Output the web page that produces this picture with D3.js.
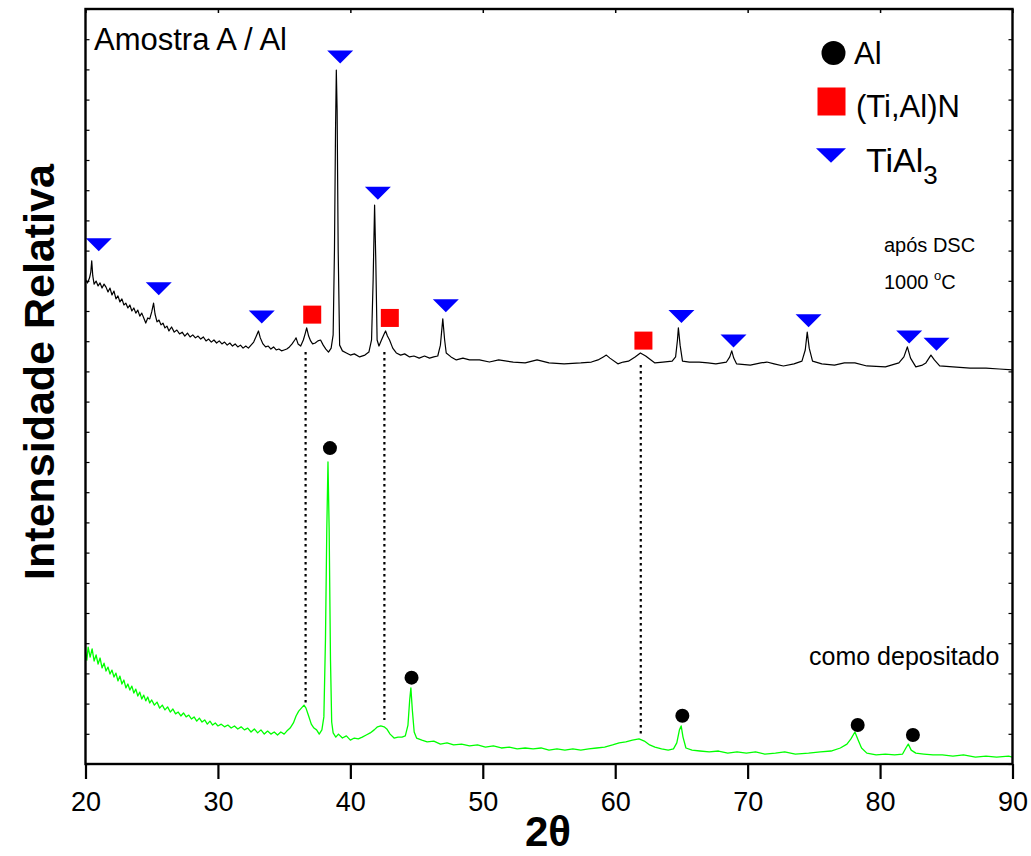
<!DOCTYPE html>
<html><head><meta charset="utf-8">
<script src="https://cdn.jsdelivr.net/npm/d3@7"></script>
<style>body{margin:0;background:#fff} svg{display:block} text{font-family:"Liberation Sans",Arial,sans-serif;fill:#000}</style>
</head><body><svg id="c" width="1031" height="856"></svg>
<script>
// ---- data (2θ in degrees, intensity in arbitrary units) ----
const xTicks = [20, 30, 40, 50, 60, 70, 80, 90];
const yTicks = d3.range(0, 26, 1);

// "após DSC 1000 °C" pattern (black)
const afterDSC = [
[20.00,16.03],[20.15,15.93],[20.30,16.09],[20.40,16.29],[20.47,16.66],[20.55,16.16],[20.65,15.89],[20.80,15.99],
[20.95,15.83],[21.10,15.93],[21.25,15.76],[21.40,15.89],[21.55,15.79],[21.70,15.63],[21.85,15.76],[22.00,15.53],
[22.15,15.66],[22.30,15.40],[22.45,15.50],[22.60,15.30],[22.75,15.40],[22.90,15.20],[23.05,15.26],[23.20,15.10],
[23.35,15.20],[23.50,15.00],[23.65,15.10],[23.80,14.93],[23.95,15.03],[24.10,14.83],[24.25,14.93],[24.40,14.77],
[24.55,14.60],[24.70,14.77],[24.85,14.74],[25.00,14.97],[25.14,15.26],[25.25,14.90],[25.40,14.64],[25.55,14.70],
[25.70,14.54],[25.85,14.60],[26.00,14.44],[26.15,14.50],[26.30,14.34],[26.50,14.47],[26.70,14.30],[26.90,14.37],
[27.10,14.24],[27.30,14.30],[27.50,14.17],[27.70,14.27],[27.90,14.14],[28.10,14.21],[28.30,14.11],[28.50,14.17],
[28.70,14.07],[28.90,14.14],[29.10,14.01],[29.30,14.07],[29.50,13.97],[29.70,14.04],[29.90,13.94],[30.10,14.01],
[30.30,13.91],[30.50,13.97],[30.70,13.87],[30.90,13.94],[31.10,13.84],[31.30,13.91],[31.50,13.81],[31.70,13.87],
[31.90,13.77],[32.10,13.84],[32.30,13.77],[32.50,13.87],[32.70,13.97],[32.90,14.17],[33.06,14.34],[33.20,14.11],
[33.40,13.91],[33.60,13.81],[33.80,13.84],[34.00,13.74],[34.20,13.81],[34.40,13.71],[34.60,13.74],[34.80,13.68],
[35.00,13.71],[35.20,13.74],[35.40,13.81],[35.60,13.91],[35.80,14.04],[35.90,14.11],[36.05,13.91],[36.25,13.84],
[36.45,14.04],[36.60,14.27],[36.70,14.44],[36.85,14.17],[37.00,14.01],[37.15,13.91],[37.35,13.94],[37.55,14.01],
[37.75,14.04],[37.95,13.87],[38.15,13.74],[38.35,13.64],[38.55,13.77],[38.70,14.21],[38.80,17.02],[38.88,20.99],
[38.94,22.98],[39.00,21.66],[39.08,17.02],[39.19,13.87],[39.40,13.68],[39.70,13.61],[40.00,13.54],[40.30,13.58],
[40.70,13.48],[41.10,13.54],[41.40,13.64],[41.60,14.04],[41.72,16.03],[41.83,18.51],[41.92,16.69],[42.02,14.04],
[42.16,13.84],[42.35,14.04],[42.55,14.24],[42.66,14.34],[42.80,14.17],[42.96,14.04],[43.20,13.77],[43.47,13.61],
[43.80,13.54],[44.10,13.58],[44.47,13.48],[44.80,13.51],[45.20,13.44],[45.60,13.51],[45.98,13.44],[46.30,13.48],
[46.60,13.51],[46.80,13.87],[46.98,14.74],[47.12,14.04],[47.24,13.61],[47.60,13.48],[48.00,13.38],[48.50,13.44],
[49.00,13.38],[49.75,13.38],[50.50,13.31],[51.20,13.38],[52.30,13.31],[53.20,13.28],[54.10,13.38],[55.00,13.28],
[56.14,13.25],[57.40,13.28],[58.20,13.31],[58.70,13.38],[59.10,13.48],[59.33,13.54],[59.60,13.44],[60.20,13.25],
[60.60,13.31],[61.00,13.34],[61.50,13.48],[61.90,13.61],[62.30,13.51],[62.70,13.38],[63.00,13.28],[63.60,13.31],
[64.30,13.34],[64.56,13.48],[64.70,14.04],[64.77,14.44],[64.90,13.87],[65.08,13.34],[65.60,13.31],[66.34,13.31],
[67.00,13.28],[67.60,13.25],[68.40,13.31],[68.65,13.48],[68.80,13.68],[68.95,13.44],[69.16,13.25],[70.20,13.21],
[71.00,13.28],[71.45,13.31],[72.00,13.25],[72.70,13.18],[73.50,13.25],[74.10,13.34],[74.35,13.71],[74.50,14.30],
[74.65,13.77],[74.90,13.34],[75.60,13.25],[76.56,13.21],[77.30,13.28],[78.10,13.28],[79.00,13.18],[80.40,13.15],
[81.42,13.28],[81.80,13.48],[82.06,13.81],[82.30,13.44],[82.70,13.15],[83.20,13.21],[83.46,13.28],[83.84,13.54],
[84.10,13.38],[84.50,13.18],[85.50,13.15],[86.80,13.11],[88.00,13.11],[89.00,13.08],[90.00,13.05]
];

// "como depositado" pattern (green)
const asDeposited = [
[20.00,3.71],[20.10,3.44],[20.20,3.87],[20.35,3.54],[20.50,3.81],[20.65,3.41],[20.80,3.61],[20.95,3.31],
[21.10,3.51],[21.25,3.18],[21.40,3.34],[21.55,3.08],[21.70,3.21],[21.85,2.98],[22.00,3.11],[22.15,2.88],
[22.30,3.01],[22.45,2.75],[22.60,2.91],[22.75,2.65],[22.90,2.78],[23.05,2.52],[23.20,2.65],[23.35,2.45],
[23.50,2.58],[23.65,2.35],[23.80,2.48],[23.95,2.25],[24.10,2.38],[24.25,2.15],[24.40,2.28],[24.55,2.09],
[24.70,2.22],[24.85,2.02],[25.00,2.12],[25.20,1.95],[25.40,2.05],[25.60,1.85],[25.80,1.95],[26.00,1.79],
[26.20,1.89],[26.40,1.72],[26.60,1.82],[26.80,1.66],[27.00,1.72],[27.20,1.59],[27.40,1.69],[27.60,1.56],
[27.80,1.62],[28.00,1.49],[28.20,1.56],[28.40,1.42],[28.60,1.52],[28.80,1.39],[29.00,1.46],[29.20,1.32],
[29.40,1.42],[29.60,1.29],[29.80,1.36],[30.00,1.26],[30.25,1.32],[30.50,1.23],[30.75,1.29],[31.00,1.19],
[31.25,1.26],[31.50,1.16],[31.75,1.23],[32.00,1.13],[32.25,1.19],[32.50,1.06],[32.75,1.16],[33.00,1.03],
[33.25,1.13],[33.50,0.99],[33.75,1.09],[34.00,0.99],[34.25,1.06],[34.50,0.96],[34.75,1.06],[35.00,0.99],
[35.20,1.09],[35.45,1.19],[35.70,1.36],[35.90,1.59],[36.10,1.75],[36.30,1.85],[36.50,1.95],[36.65,1.85],
[36.85,1.59],[37.05,1.32],[37.25,1.19],[37.45,1.13],[37.65,0.99],[37.85,1.13],[38.00,1.56],[38.12,4.11],
[38.22,7.75],[38.31,10.00],[38.40,7.75],[38.50,3.44],[38.59,1.39],[38.70,1.03],[38.90,0.89],[39.10,0.99],
[39.40,0.86],[39.70,0.93],[40.00,0.79],[40.30,0.86],[40.60,0.83],[40.90,0.89],[41.20,0.96],[41.50,1.03],
[41.80,1.13],[42.05,1.23],[42.30,1.26],[42.55,1.23],[42.75,1.16],[43.00,0.99],[43.30,0.86],[43.60,0.89],
[43.90,0.89],[44.15,0.93],[44.35,1.29],[44.48,2.12],[44.57,2.52],[44.68,1.79],[44.82,1.06],[45.00,0.86],
[45.40,0.79],[45.80,0.73],[46.30,0.76],[46.80,0.66],[47.30,0.70],[47.80,0.63],[48.40,0.66],[49.00,0.60],
[49.60,0.63],[50.20,0.56],[50.80,0.60],[51.40,0.53],[52.00,0.56],[52.60,0.50],[53.20,0.53],[53.80,0.50],
[54.40,0.53],[55.00,0.46],[55.60,0.50],[56.20,0.46],[56.80,0.50],[57.40,0.46],[58.00,0.50],[58.60,0.53],
[59.20,0.56],[59.80,0.63],[60.30,0.70],[60.80,0.73],[61.30,0.79],[61.80,0.83],[62.20,0.76],[62.60,0.63],
[63.00,0.56],[63.50,0.50],[64.00,0.46],[64.40,0.50],[64.65,0.70],[64.85,1.13],[64.98,1.26],[65.12,0.89],
[65.34,0.53],[65.80,0.46],[66.40,0.43],[67.10,0.40],[67.80,0.43],[68.50,0.36],[69.20,0.40],[69.90,0.36],
[70.60,0.40],[71.30,0.33],[72.10,0.36],[72.80,0.40],[73.60,0.33],[74.60,0.36],[75.50,0.40],[76.30,0.43],
[77.00,0.53],[77.50,0.66],[77.80,0.83],[78.10,1.06],[78.35,0.79],[78.60,0.53],[79.00,0.36],[79.70,0.30],
[80.40,0.33],[81.10,0.30],[81.70,0.33],[81.95,0.53],[82.13,0.66],[82.35,0.46],[82.70,0.36],[83.30,0.33],
[84.00,0.30],[84.70,0.30],[85.50,0.26],[86.30,0.30],[87.20,0.23],[88.00,0.26],[88.80,0.23],[89.70,0.26],[90.00,0.23]
];

// phase markers [2θ, intensity]
const tiAl3Marks = [[21.0,17.19],[25.53,15.74],[33.31,14.80],[39.23,23.41],[42.08,18.90],[47.21,15.17],
                    [65.0,14.82],[68.93,14.01],[74.6,14.68],[82.2,14.14],[84.26,13.90]];
const tiAlNMarks = [[37.12,14.88],[42.98,14.77],[62.13,14.02]];
const alMarks = [[38.46,10.46],[44.62,2.86],[65.07,1.60],[78.31,1.29],[82.48,0.96]];
// dotted guide lines [2θ, intensity top, intensity bottom]
const guideLines = [[36.62,13.64,2.02],[42.57,13.64,1.46],[61.93,13.21,0.96]];

// ---- drawing ----
const W = 1031, H = 856;
const svg = d3.select("#c");
svg.append("rect").attr("width", W).attr("height", H).attr("fill", "#fff");

const x = d3.scaleLinear().domain([20, 90]).range([85.5, 1012.5]);
const y = d3.scaleLinear().domain([0, 25]).range([764, 9]);

const line = d3.line().x(d => x(d[0])).y(d => y(d[1]));

// guide lines
svg.append("g").selectAll("line").data(guideLines).join("line")
  .attr("x1", d => x(d[0])).attr("x2", d => x(d[0]))
  .attr("y1", d => y(d[1])).attr("y2", d => y(d[2]))
  .attr("stroke", "#000").attr("stroke-width", 2.2).attr("stroke-dasharray", "2.5,3.5");

// patterns
svg.append("path").datum(asDeposited).attr("d", line)
  .attr("fill", "none").attr("stroke", "#00ff00").attr("stroke-width", 1.3).attr("stroke-linejoin", "round");
svg.append("path").datum(afterDSC).attr("d", line)
  .attr("fill", "none").attr("stroke", "#000").attr("stroke-width", 1.2).attr("stroke-linejoin", "round");

// markers
const tri = (cx, cy, w, h) => `M${cx - w/2},${cy - h/2}L${cx + w/2},${cy - h/2}L${cx},${cy + h/2}Z`;
svg.append("g").selectAll("path").data(tiAl3Marks).join("path")
  .attr("d", d => tri(x(d[0]), y(d[1]), 26, 13)).attr("fill", "#0000ff");
svg.append("g").selectAll("rect").data(tiAlNMarks).join("rect")
  .attr("x", d => x(d[0]) - 9).attr("y", d => y(d[1]) - 9).attr("width", 18).attr("height", 18)
  .attr("fill", "#ff0000");
svg.append("g").selectAll("circle").data(alMarks).join("circle")
  .attr("cx", d => x(d[0])).attr("cy", d => y(d[1])).attr("r", 7).attr("fill", "#000");

// axes
const fnt = "Liberation Sans, Arial, sans-serif";
const gB = svg.append("g").attr("transform", "translate(0,764)")
  .call(d3.axisBottom(x).tickValues(xTicks).tickSize(15).tickPadding(13).tickFormat(d3.format("d")));
gB.selectAll("text").attr("font-size", 27).attr("font-family", fnt).attr("fill", "#000");
gB.selectAll("line").attr("stroke", "#000").attr("stroke-width", 2.2);
gB.select(".domain").remove();

const gT = svg.append("g").attr("transform", "translate(0,9)")
  .call(d3.axisTop(x).tickValues(xTicks).tickSize(-4).tickFormat(""));
gT.selectAll("line").attr("stroke", "#000").attr("stroke-width", 1.5);
gT.select(".domain").remove();

const gL = svg.append("g").attr("transform", "translate(85.5,0)")
  .call(d3.axisLeft(y).tickValues(yTicks).tickSize(-4).tickFormat(""));
gL.selectAll("line").attr("stroke", "#000").attr("stroke-width", 1.2);
gL.select(".domain").remove();

const gR = svg.append("g").attr("transform", "translate(1012.5,0)")
  .call(d3.axisRight(y).tickValues(yTicks).tickSize(-4).tickFormat(""));
gR.selectAll("line").attr("stroke", "#000").attr("stroke-width", 1.2);
gR.select(".domain").remove();

// frame
svg.append("rect").attr("x", 85.5).attr("y", 9).attr("width", 927).attr("height", 755)
  .attr("fill", "none").attr("stroke", "#000").attr("stroke-width", 2.4);

// axis titles
svg.append("text").attr("x", 548).attr("y", 846).attr("text-anchor", "middle")
  .attr("font-size", 42).attr("font-weight", "bold").text("2θ");
svg.append("text").attr("transform", "translate(54,372) rotate(-90)").attr("text-anchor", "middle")
  .attr("font-size", 43).attr("font-weight", "bold").text("Intensidade Relativa");

// annotations
svg.append("text").attr("x", 94).attr("y", 50).attr("font-size", 31).text("Amostra A / Al");
svg.append("text").attr("x", 884).attr("y", 252).attr("font-size", 20).text("após DSC");
const t1000 = svg.append("text").attr("x", 884).attr("y", 289).attr("font-size", 20);
t1000.append("tspan").text("1000 ");
t1000.append("tspan").attr("font-size", 13).attr("dy", -9).text("o");
t1000.append("tspan").attr("dy", 9).text("C");
svg.append("text").attr("x", 809).attr("y", 665).attr("font-size", 25).text("como depositado");

// legend
const lg = svg.append("g");
lg.append("circle").attr("cx", 833.5).attr("cy", 53).attr("r", 12).attr("fill", "#000");
lg.append("text").attr("x", 854).attr("y", 64).attr("font-size", 31).text("Al");
lg.append("rect").attr("x", 817.5).attr("y", 87.5).attr("width", 28).attr("height", 28).attr("fill", "#ff0000");
lg.append("text").attr("x", 856).attr("y", 117).attr("font-size", 31).text("(Ti,Al)N");
lg.append("path").attr("d", tri(831, 155.5, 30, 14.5)).attr("fill", "#0000ff");
const tl = lg.append("text").attr("x", 866).attr("y", 172).attr("font-size", 34);
tl.append("tspan").text("TiAl");
tl.append("tspan").attr("font-size", 26).attr("dy", 12).text("3");
</script>
</body></html>
